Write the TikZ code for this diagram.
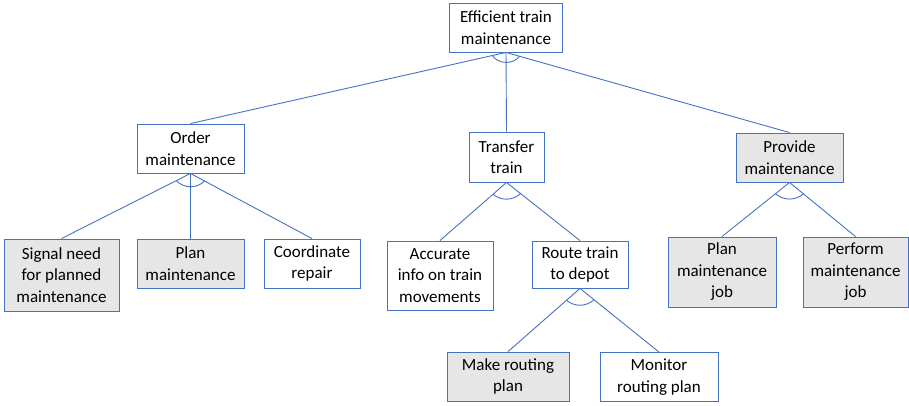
\documentclass[tikz,border=0pt]{standalone}
\usepackage{fontspec}
\setmainfont{Carlito}
\usetikzlibrary{calc}
\definecolor{boxblue}{HTML}{4472C4}
\definecolor{boxgray}{HTML}{E7E6E6}
\begin{document}
\begin{tikzpicture}[x=1pt,y=-1pt,
  goal/.style={draw=boxblue, line width=0.9pt, inner sep=0pt, align=center, font=\fontsize{17}{21.5}\selectfont},
  grayfill/.style={goal, fill=boxgray},
  link/.style={draw=boxblue, line width=0.9pt},
]
\useasboundingbox (0,0) rectangle (909,405);
% top
\node[goal, minimum width=113pt, minimum height=49pt] (root) at (506,27.5) {Efficient train\\maintenance};
% second level
\node[goal, minimum width=107pt, minimum height=49pt] (order) at (190.5,148.5) {Order\\maintenance};
\node[goal, minimum width=75pt, minimum height=50pt] (transfer) at (506.5,157) {Transfer\\train};
\node[grayfill, minimum width=107pt, minimum height=49pt] (provide) at (789.5,157.5) {Provide\\maintenance};
% third level
\node[grayfill, minimum width=115pt, minimum height=72pt] (signal) at (61.5,275) {Signal need\\for planned\\maintenance};
\node[grayfill, minimum width=107pt, minimum height=49pt] (plan) at (190.5,263.5) {Plan\\maintenance};
\node[goal, minimum width=96pt, minimum height=49pt] (coord) at (312,263.5) {Coordinate\\repair};
\node[goal, minimum width=106pt, minimum height=69pt] (accurate) at (440,275.5) {Accurate\\info on train\\movements};
\node[goal, minimum width=96pt, minimum height=47pt] (route) at (580,264.5) {Route train\\to depot};
\node[grayfill, minimum width=108pt, minimum height=70pt] (planjob) at (722,272) {Plan\\maintenance\\job};
\node[grayfill, minimum width=105pt, minimum height=70pt] (perform) at (855.5,272) {Perform\\maintenance\\job};
% fourth level
\node[grayfill, minimum width=122pt, minimum height=49pt] (make) at (508,376.5) {Make routing\\plan};
\node[goal, minimum width=118pt, minimum height=49pt] (monitor) at (659,377) {Monitor\\routing plan};
% connectors
\draw[link] (root.south) -- (order.north);
\draw[link] (root.south) -- (transfer.north);
\draw[link] (root.south) -- (provide.north);
\draw[link] (order.south) -- (signal.north);
\draw[link] (order.south) -- (plan.north);
\draw[link] (order.south) -- (coord.north);
\draw[link] (transfer.south) -- (accurate.north);
\draw[link] (transfer.south) -- (route.north);
\draw[link] (provide.south) -- (planjob.north);
\draw[link] (provide.south) -- (perform.north);
\draw[link] (route.south) -- (make.north);
\draw[link] (route.south) -- (monitor.north);
% AND arcs
\draw[link] ($(root.south)!14pt!(order.north)$) to[bend right=55] ($(root.south)!14pt!(provide.north)$);
\draw[link] ($(order.south)!16pt!(signal.north)$) to[bend right=45] ($(order.south)!16pt!(coord.north)$);
\draw[link] ($(transfer.south)!18pt!(accurate.north)$) to[bend right=40] ($(transfer.south)!18pt!(route.north)$);
\draw[link] ($(provide.south)!18pt!(planjob.north)$) to[bend right=40] ($(provide.south)!18pt!(perform.north)$);
\draw[link] ($(route.south)!18pt!(make.north)$) to[bend right=40] ($(route.south)!18pt!(monitor.north)$);
\end{tikzpicture}
\end{document}
